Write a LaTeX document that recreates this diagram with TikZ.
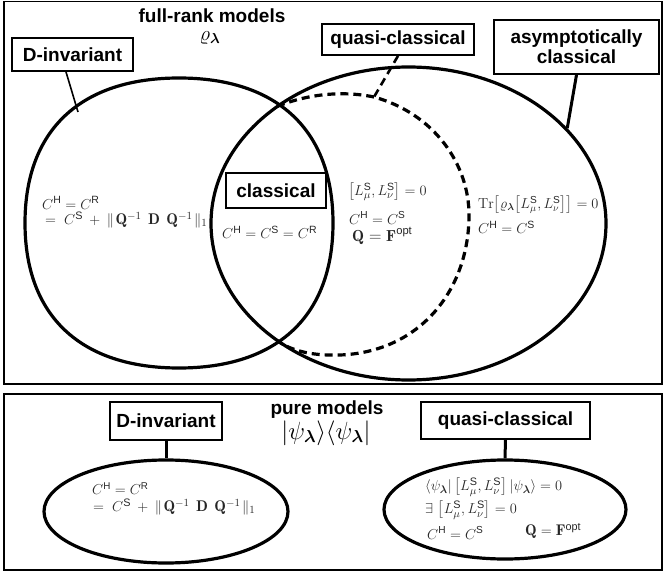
\documentclass[tikz,border=0pt]{standalone}
\usepackage{amsmath}
\usepackage{bm}
\usepackage{fontspec}
\setsansfont{Liberation Sans}
\usetikzlibrary{shapes.geometric}
\newcommand{\lblfont}{\fontsize{19}{22}\selectfont\sffamily\bfseries}
\newcommand{\fs}[1]{\fontsize{#1}{#1}\selectfont}
\newcommand{\normline}{$=\mkern5mu C^{\mathsf{S}}\mkern4mu+\mkern4mu\|\mkern2mu\mathbf{Q}^{-1}\mkern8mu\mathbf{D}\mkern8mu\mathbf{Q}^{-1}\mkern2mu\|_1$}
\begin{document}
\begin{tikzpicture}[x=1pt,y=-1pt,
  labelbox/.style={draw, line width=1.8pt, font=\lblfont, inner sep=0pt, align=center},
  mtext/.style={text=black!85, inner sep=0pt, anchor=west},
  setline/.style={line width=3.2pt},
  dashline/.style={line width=3.2pt, dash pattern=on 8pt off 5pt},
  frame/.style={line width=1.2pt},
  conn/.style={line width=1.6pt},
  thickconn/.style={line width=3pt}]
\useasboundingbox (0,0) rectangle (664,572);
% panels
\draw[frame] (4,1.5) rectangle (662,384);
\draw[frame] (4,394) rectangle (662,570);
% ---------- top panel ----------
\node[font=\lblfont] (frm) at (212,16) {full-rank models};
\node[inner sep=0pt] (rho) at (210,38) {\fs{20}$\varrho_{\bm\lambda}$};
% D-invariant set (left)
\begin{scope}[shift={(179,223)}]
\draw[setline] (154,0) .. controls (154,92.8) and (98.6,145) .. (0,145)
  .. controls (-98.6,145) and (-154,92.8) .. (-154,0)
  .. controls (-154,-92.8) and (-98.6,-145) .. (0,-145)
  .. controls (98.6,-145) and (154,-92.8) .. (154,0) -- cycle;
\coordinate (dtouch) at (-101,-111);
\end{scope}
% asymptotically classical set
\node[draw, ellipse, setline, minimum width=395, minimum height=313, inner sep=0pt] (asymell) at (408.5,223.5) {};
% quasi-classical set (dashed)
\draw[dashline] (277,106.5) .. controls (305,95) and (340,90) .. (374,97)
  .. controls (435,114) and (469,165) .. (469,215)
  .. controls (469,290) and (420,352) .. (340,355)
  .. controls (310,356) and (290,350) .. (277,340.5);
\coordinate (qtouch) at (374,97);
% labels
\node[labelbox, minimum width=121, minimum height=33] (dbox) at (72.5,54.5) {D-invariant};
\node[labelbox, minimum width=152, minimum height=31] (qbox) at (398,39.5) {quasi-classical};
\node[labelbox, minimum width=165, minimum height=54] (abox) at (576.5,47) {asymptotically\\[-2pt]classical};
\node[labelbox, minimum width=100, minimum height=35] (cbox) at (276,190.5) {classical};
\draw[conn] ([xshift=-6.5pt]dbox.south) -- (dtouch);
\draw[dashline, line width=2.6pt] (qbox.south) -- (qtouch);
\draw[thickconn] (abox.south) -- (asymell.31);
% formulas
\node[mtext] (l1) at (42,203) {\fs{15}$C^{\mathsf{H}}=C^{\mathsf{R}}$};
\node[mtext] (l2) at (45,220) {\fs{15.5}\normline};
\node[mtext] (c1) at (222,232) {\fs{15}$C^{\mathsf{H}}=C^{\mathsf{S}}=C^{\mathsf{R}}$};
\node[mtext] (m1) at (348,192) {\fs{15}$\bigl[L^{\mathsf{S}}_{\mu},L^{\mathsf{S}}_{\nu}\bigr]=0$};
\node[mtext] (m2) at (349,218) {\fs{14.5}$C^{\mathsf{H}}=C^{\mathsf{S}}$};
\node[mtext] (m3) at (352,236) {\fs{16}$\mathbf{Q}=\mathbf{F}^{\mathsf{opt}}$};
\node[mtext] (r1) at (478,205) {\fs{14.5}$\mathrm{Tr}\bigl[\varrho_{\bm\lambda}\bigl[L^{\mathsf{S}}_{\mu},L^{\mathsf{S}}_{\nu}\bigr]\bigr]=0$};
\node[mtext] (r2) at (478,227) {\fs{15}$C^{\mathsf{H}}=C^{\mathsf{S}}$};
% ---------- bottom panel ----------
\node[font=\lblfont] (pm) at (327,410) {pure models};
\node[inner sep=0pt] (ket) at (326,433) {\fs{25}$|\psi_{\bm\lambda}\rangle\langle\psi_{\bm\lambda}|$};
\node[labelbox, minimum width=112, minimum height=38] (dbox2) at (166,421) {D-invariant};
\node[labelbox, minimum width=169, minimum height=37] (qbox2) at (505.5,420.5) {quasi-classical};
\node[draw, ellipse, setline, minimum width=244, minimum height=103, inner sep=0pt] (dell) at (166,511.5) {};
\node[draw, ellipse, setline, minimum width=242, minimum height=99, inner sep=0pt] (qell) at (505,509.5) {};
\draw[thickconn] (dbox2.south) -- (dell.north);
\draw[thickconn] (qbox2.south) -- (qell.north);
\node[mtext] (bl1) at (92,489) {\fs{14}$C^{\mathsf{H}}=C^{\mathsf{R}}$};
\node[mtext] (bl2) at (93,507) {\fs{15.5}\normline};
\node[mtext] (br1) at (425,487) {\fs{15.5}$\langle\psi_{\bm\lambda}|\,\bigl[L^{\mathsf{S}}_{\mu},L^{\mathsf{S}}_{\nu}\bigr]\,|\psi_{\bm\lambda}\rangle=0$};
\node[mtext] (br2) at (425,510) {\fs{15.5}$\exists\ \bigl[L^{\mathsf{S}}_{\mu},L^{\mathsf{S}}_{\nu}\bigr]=0$};
\node[mtext] (br3) at (427,533) {\fs{14.5}$C^{\mathsf{H}}=C^{\mathsf{S}}$};
\node[mtext] (br4) at (525,531) {\fs{15.5}$\mathbf{Q}=\mathbf{F}^{\mathsf{opt}}$};
\end{tikzpicture}
\end{document}
